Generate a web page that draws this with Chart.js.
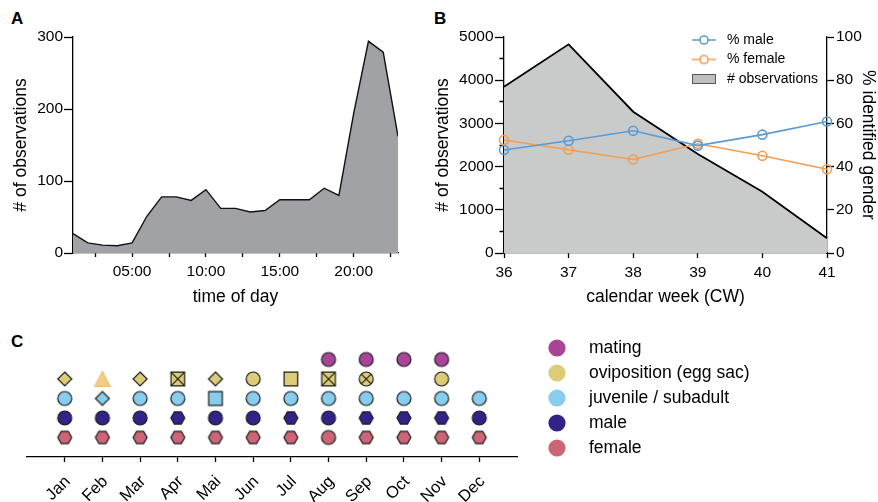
<!DOCTYPE html>
<html><head><meta charset="utf-8">
<script src="https://cdn.jsdelivr.net/npm/chart.js@4.4.1/dist/chart.umd.min.js"></script>
<style>
html,body{margin:0;padding:0;background:#fff;}
body{width:878px;height:502px;position:relative;overflow:hidden;font-family:'Liberation Sans',Arial,sans-serif;}
canvas{position:absolute;}
.panel{position:absolute;font-weight:bold;font-size:17px;line-height:1;color:#000;}
</style></head><body>
<div class="panel" style="left:11px;top:10px">A</div>
<div class="panel" style="left:434px;top:10px">B</div>
<div class="panel" style="left:11px;top:333px">C</div>
<canvas id="cA" width="430" height="320" style="left:0;top:0;width:430px;height:320px"></canvas>
<canvas id="cB" width="448" height="320" style="left:430px;top:0;width:448px;height:320px"></canvas>
<canvas id="cBleg" width="200" height="80" style="left:680px;top:27px;width:200px;height:80px"></canvas>
<canvas id="cC" width="530" height="182" style="left:0;top:320px;width:530px;height:182px"></canvas>
<canvas id="cCleg" width="350" height="170" style="left:520px;top:330px;width:350px;height:170px"></canvas>
<script>
// ---------- data ----------
// Panel A: observations per hour of day
const hours = [1,2,3,4,5,6,7,8,9,10,11,12,13,14,15,16,17,18,19,20,21,22,23];
const hourlyObs = [27,14,11,10,14,51,78,78,73,88,62,62,57,59,74,74,74,90,80,194,294,279,162];

// Panel B: calendar weeks
const weeks = ['36','37','38','39','40','41'];
const weeklyObs = [3850, 4830, 3270, 2290, 1420, 340];
const pctMale = [47.7, 52.0, 56.6, 49.7, 54.8, 60.9];
const pctFemale = [52.3, 47.8, 43.3, 50.6, 45.0, 38.8];
const legendB = ['% male', '% female', '# observations'];

// Panel C: phenology
const months = ['Jan','Feb','Mar','Apr','Mai','Jun','Jul','Aug','Sep','Oct','Nov','Dec'];
const behaviours = ['mating','oviposition (egg sac)','juvenile / subadult','male','female'];
const matingMonths = ['Aug','Sep','Oct','Nov'];
const matingMarkers = ['circle','circle','circle','circle'];
const oviMonths = ['Jan','Feb','Mar','Apr','Mai','Jun','Jul','Aug','Sep','Nov'];
const oviMarkers = ['diamond','triangle','diamond','crossSquare','diamond','circle','square','crossSquare','crossCircle','circle'];
const juvMonths = ['Jan','Feb','Mar','Apr','Mai','Jun','Jul','Aug','Sep','Oct','Nov','Dec'];
const juvMarkers = ['circle','diamond','circle','circle','square','circle','circle','circle','circle','circle','circle','circle'];
const maleMonths = ['Jan','Feb','Mar','Apr','Mai','Jun','Jul','Aug','Sep','Oct','Nov','Dec'];
const maleMarkers = ['circle','circle','circle','hexagon','circle','circle','hexagon','circle','hexagon','hexagon','hexagon','circle'];
const femaleMonths = ['Jan','Feb','Mar','Apr','Mai','Jun','Jul','Aug','Sep','Oct','Nov','Dec'];
const femaleMarkers = ['hexagon','hexagon','hexagon','hexagon','hexagon','hexagon','hexagon','circle','hexagon','hexagon','hexagon','hexagon'];

// ---------- styles ----------
const FONT = "'Liberation Sans', Arial, Helvetica, sans-serif";
Chart.defaults.font.family = FONT;
Chart.defaults.color = '#000';
Chart.defaults.animation = false;

const colMale = '#5b9bd5', colFemale = '#f59d50';
const behaviourColors = ['#AA4499','#DDCC77','#88CCEE','#332288','#CC6677'];
const triFill = '#f4cc87', triStroke = '#f0bf78';
const axisCol = '#000';

function axisBase(extra) {
  return Object.assign({
    border: {color: axisCol, width: 1.3},
  }, extra);
}

// ---------- Panel A ----------
new Chart(document.getElementById('cA'), {
  type: 'line',
  data: {datasets: [{
    data: hours.map((h, i) => ({x: h, y: hourlyObs[i]})),
    borderColor: '#111', borderWidth: 1.4, backgroundColor: '#a1a2a6',
    fill: 'origin', pointRadius: 0, tension: 0
  }]},
  options: {
    responsive: false, animation: false, events: [],
    layout: {padding: {left: 0, top: 37, right: 32, bottom: 0}},
    plugins: {legend: {display: false}, tooltip: {enabled: false}},
    scales: {
      x: axisBase({
        type: 'linear', min: 1, max: 23,
        afterFit(s) { s.height = 67; },
        ticks: {stepSize: 2.5, includeBounds: false, autoSkip: false, maxRotation: 0, padding: 5, font: {size: 15.5},
          callback: v => (v % 5 === 0 ? String(v).padStart(2, '0') + ':00' : '')},
        grid: {drawOnChartArea: false, tickLength: 4, tickColor: axisCol, tickWidth: 1.3},
        title: {display: true, text: 'time of day', font: {size: 17.5}, padding: {top: 0, bottom: 12}}
      }),
      y: axisBase({
        min: 0, max: 300,
        afterFit(s) { s.width = 73; },
        ticks: {stepSize: 100, padding: 1, font: {size: 15.5}},
        grid: {drawOnChartArea: false, tickLength: 9, tickColor: axisCol, tickWidth: 1.3},
        title: {display: true, text: '# of observations', font: {size: 17.5}, padding: {top: 11, bottom: 0}}
      })
    }
  }
});

// ---------- Panel B ----------
new Chart(document.getElementById('cB'), {
  type: 'line',
  data: {labels: weeks, datasets: [
    {label: legendB[0], data: pctMale, yAxisID: 'y1', borderColor: colMale, borderWidth: 1.6,
     pointRadius: 4.5, pointBorderWidth: 1.6, pointBorderColor: colMale, pointBackgroundColor: 'rgba(0,0,0,0)', fill: false, tension: 0},
    {label: legendB[1], data: pctFemale, yAxisID: 'y1', borderColor: colFemale, borderWidth: 1.6,
     pointRadius: 4.5, pointBorderWidth: 1.6, pointBorderColor: colFemale, pointBackgroundColor: 'rgba(0,0,0,0)', fill: false, tension: 0},
    {label: legendB[2], data: weeklyObs, yAxisID: 'y', borderColor: '#000', borderWidth: 1.8,
     backgroundColor: '#c9caca', fill: 'origin', pointRadius: 0, tension: 0}
  ]},
  options: {
    responsive: false, animation: false, events: [],
    layout: {padding: {left: 0, top: 37, right: 0, bottom: 0}},
    plugins: {legend: {display: false}, tooltip: {enabled: false}},
    scales: {
      x: axisBase({
        afterFit(s) { s.height = 67; },
        ticks: {padding: 5, maxRotation: 0, font: {size: 15.5}},
        grid: {drawOnChartArea: false, tickLength: 5, tickColor: axisCol, tickWidth: 1.3},
        title: {display: true, text: 'calendar week (CW)', font: {size: 17.5}, padding: {top: 0, bottom: 12}}
      }),
      y: axisBase({
        position: 'left', min: 0, max: 5000,
        afterFit(s) { s.width = 74; },
        ticks: {stepSize: 500, autoSkip: false, padding: 1.5, font: {size: 15.5},
          callback: v => (v % 1000 === 0 ? String(v) : '')},
        grid: {drawOnChartArea: false, tickLength: 9, tickColor: axisCol, tickWidth: 1.3,
          tickBorderDash: c => (c.tick && c.tick.value % 1000 !== 0) ? [0, 4.5, 20] : []},
        title: {display: true, text: '# of observations', font: {size: 17.5}, padding: {top: 3, bottom: 0}}
      }),
      y1: axisBase({
        position: 'right', min: 0, max: 100,
        afterFit(s) { s.width = 51; },
        ticks: {stepSize: 20, padding: 2, font: {size: 15.5}},
        grid: {drawOnChartArea: false, tickLength: 7, tickColor: axisCol, tickWidth: 1.3},
        title: {display: true, text: '% identified gender', font: {size: 17.5}, padding: {top: 0, bottom: 0}}
      })
    }
  }
});

// legend icons for B
function legendLineIcon(color) {
  const c = document.createElement('canvas'); c.width = 24; c.height = 12;
  const g = c.getContext('2d');
  g.strokeStyle = color; g.lineWidth = 1.6;
  g.beginPath(); g.moveTo(0, 6); g.lineTo(8, 6); g.moveTo(16, 6); g.lineTo(24, 6); g.stroke();
  g.beginPath(); g.arc(12, 6, 4, 0, Math.PI * 2); g.stroke();
  return c;
}
function legendBoxIcon() {
  const c = document.createElement('canvas'); c.width = 24; c.height = 10;
  const g = c.getContext('2d');
  g.fillStyle = '#bfbfbf'; g.fillRect(0.5, 0.5, 23, 9);
  g.strokeStyle = '#555'; g.lineWidth = 1; g.strokeRect(0.5, 0.5, 23, 9);
  return c;
}
const iconsB = [legendLineIcon(colMale), legendLineIcon(colFemale), legendBoxIcon()];

new Chart(document.getElementById('cBleg'), {
  type: 'line',
  data: {datasets: []},
  options: {
    responsive: false, animation: false, events: [],
    layout: {padding: {left: 2.5, top: 0.5, right: 0, bottom: 0}},
    scales: {x: {display: false}, y: {display: false}},
    plugins: {
      tooltip: {enabled: false},
      legend: {display: true, position: 'left', align: 'start', maxWidth: 1000,
        labels: {font: {size: 14}, padding: 5.5, usePointStyle: true, pointStyleWidth: 32, color: '#000',
          generateLabels: () => legendB.map((t, i) => ({text: t, pointStyle: iconsB[i], fillStyle: '#000', strokeStyle: '#000', lineWidth: 0, hidden: false, datasetIndex: i}))}
      }
    }
  }
});

// ---------- Panel C ----------
const markerCache = {};
function marker(shape, fill, stroke) {
  const key = shape + fill + stroke;
  if (markerCache[key]) return markerCache[key];
  const S = 22, m = 11;
  const c = document.createElement('canvas'); c.width = S; c.height = S;
  const g = c.getContext('2d');
  g.fillStyle = fill; g.strokeStyle = stroke; g.lineWidth = 1.2; g.lineJoin = 'miter';
  g.beginPath();
  if (shape === 'circle' || shape === 'crossCircle') {
    g.arc(m, m, 7, 0, Math.PI * 2);
  } else if (shape === 'diamond') {
    g.moveTo(m, m - 7); g.lineTo(m + 7, m); g.lineTo(m, m + 7); g.lineTo(m - 7, m); g.closePath();
  } else if (shape === 'square' || shape === 'crossSquare') {
    g.rect(m - 6.8, m - 6.8, 13.6, 13.6);
  } else if (shape === 'hexagon') {
    for (let k = 0; k < 6; k++) {
      const a = k * Math.PI / 3;
      const px = m + 7 * Math.cos(a), py = m + 7 * Math.sin(a);
      if (k === 0) g.moveTo(px, py); else g.lineTo(px, py);
    }
    g.closePath();
  } else if (shape === 'triangle') {
    g.moveTo(m, m - 7.5); g.lineTo(m + 7.8, m + 7.3); g.lineTo(m - 7.8, m + 7.3); g.closePath();
  }
  g.fill(); g.stroke();
  if (shape === 'crossSquare') {
    g.beginPath();
    g.moveTo(m - 6.8, m - 6.8); g.lineTo(m + 6.8, m + 6.8);
    g.moveTo(m + 6.8, m - 6.8); g.lineTo(m - 6.8, m + 6.8);
    g.stroke();
  }
  if (shape === 'crossCircle') {
    const d = 7 * Math.SQRT1_2;
    g.beginPath();
    g.moveTo(m - d, m - d); g.lineTo(m + d, m + d);
    g.moveTo(m + d, m - d); g.lineTo(m - d, m + d);
    g.stroke();
  }
  markerCache[key] = c;
  return c;
}

const cSeries = [
  {months: matingMonths, markers: matingMarkers},
  {months: oviMonths, markers: oviMarkers},
  {months: juvMonths, markers: juvMarkers},
  {months: maleMonths, markers: maleMarkers},
  {months: femaleMonths, markers: femaleMarkers}
];

new Chart(document.getElementById('cC'), {
  type: 'scatter',
  data: {datasets: cSeries.map((s, i) => ({
    label: behaviours[i],
    data: s.months.map(mo => ({x: months.indexOf(mo), y: behaviours.length - i})),
    pointStyle: s.markers.map(k => k === 'triangle' ? marker(k, triFill, triStroke) : marker(k, behaviourColors[i], '#1a1a1a')),
    pointRadius: 7.5, pointHoverRadius: 7.5
  }))},
  options: {
    responsive: false, animation: false, events: [],
    layout: {padding: {left: 27, top: 20, right: 13, bottom: 0}},
    plugins: {legend: {display: false}, tooltip: {enabled: false}},
    scales: {
      x: axisBase({
        type: 'linear', min: -1, max: 12,
        afterBuildTicks(s) { s.ticks = months.map((m, i) => ({value: i})); },
        afterFit(s) { s.height = 45; },
        ticks: {autoSkip: false, minRotation: 45, maxRotation: 45, padding: 10, labelOffset: 3, font: {size: 16.5},
          callback: v => months[v]},
        grid: {drawOnChartArea: false, tickLength: 5, tickColor: axisCol, tickWidth: 1.3}
      }),
      y: {display: false, min: 0, max: 6}
    }
  }
});

// legend for C
function dotIcon(color) {
  const c = document.createElement('canvas'); c.width = 18; c.height = 18;
  const g = c.getContext('2d');
  g.fillStyle = color; g.beginPath(); g.arc(9, 9, 8.6, 0, Math.PI * 2); g.fill();
  return c;
}
new Chart(document.getElementById('cCleg'), {
  type: 'line',
  data: {datasets: []},
  options: {
    responsive: false, animation: false, events: [],
    layout: {padding: {left: 6.25, top: 1.75, right: 0, bottom: 0}},
    scales: {x: {display: false}, y: {display: false}},
    plugins: {
      tooltip: {enabled: false},
      legend: {display: true, position: 'left', align: 'start', maxWidth: 1000,
        labels: {font: {size: 17.5}, padding: 7.5, usePointStyle: true, pointStyleWidth: 46.5, color: '#000',
          generateLabels: () => behaviours.map((t, i) => ({text: t, pointStyle: dotIcon(behaviourColors[i]), fillStyle: behaviourColors[i], strokeStyle: behaviourColors[i], lineWidth: 0, hidden: false, datasetIndex: i}))}
      }
    }
  }
});
</script>
</body></html>
